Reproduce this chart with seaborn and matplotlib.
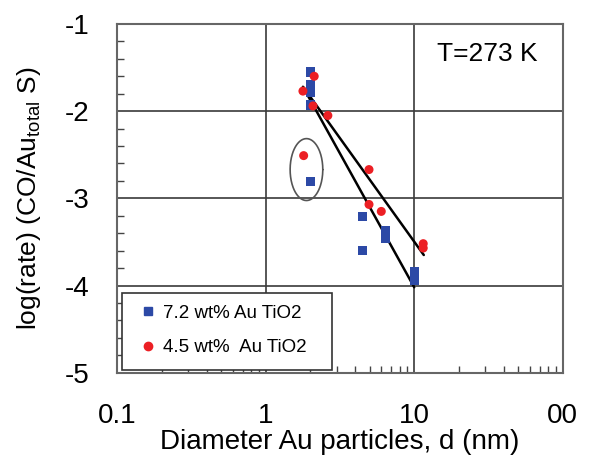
import numpy as np
import pandas as pd
import seaborn as sns
import matplotlib.pyplot as plt
from matplotlib.patches import Rectangle
from matplotlib.ticker import LogLocator, MultipleLocator, FixedLocator, NullFormatter

# data
blue_d = [2.0, 2.0, 2.0, 2.0, 2.0, 4.5, 4.5, 6.4, 6.4, 10.0, 10.0]
blue_rate = [-1.55, -1.70, -1.78, -1.93, -2.81, -3.21, -3.60, -3.37, -3.46, -3.84, -3.94]
red_d = [2.12, 1.78, 2.08, 2.62, 1.80, 4.96, 4.96, 6.0, 11.5, 11.5]
red_rate = [-1.60, -1.77, -1.94, -2.05, -2.51, -2.67, -3.07, -3.15, -3.52, -3.57]

# fitted lines (end points)
fit1_d = [1.78, 10.0]
fit1_rate = [-1.72, -4.02]
fit2_d = [1.80, 11.6]
fit2_rate = [-1.73, -3.65]

# outlier ellipse: centre, half widths (decades, log units)
ell_center = (1.88, -2.67)
ell_half = (0.11, 0.355)

labels = ["7.2 wt% Au TiO2", "4.5 wt%  Au TiO2"]
x_ticks = [0.1, 1, 10, 100]
x_ticklabels = ["0.1", "1", "10", "00"]
y_ticks = [-1, -2, -3, -4, -5]

sns.set_theme(style="white")
plt.rcParams["font.family"] = ["Liberation Sans", "DejaVu Sans"]
plt.rcParams["mathtext.default"] = "regular"
plt.rcParams["text.color"] = "black"
plt.rcParams["axes.labelcolor"] = "black"

blue = "#2c49a6"
red = "#ec1f24"

fig = plt.figure(figsize=(5.9, 4.55), dpi=100)
ax = fig.add_axes([0.1988, 0.1809, 0.7549, 0.7664])

df_b = pd.DataFrame({"d": blue_d, "rate": blue_rate})
df_r = pd.DataFrame({"d": red_d, "rate": red_rate})

# fit lines
for xd, yd in [(fit1_d, fit1_rate), (fit2_d, fit2_rate)]:
    sns.lineplot(x=xd, y=yd, ax=ax, color="black", lw=1.8, zorder=3)

sns.scatterplot(data=df_b, x="d", y="rate", ax=ax, marker="s", s=45,
                color=blue, edgecolor="none", zorder=4)
sns.scatterplot(data=df_r, x="d", y="rate", ax=ax, marker="o", s=42,
                color=red, edgecolor="none", zorder=5)

# ellipse around the outliers
t = np.linspace(0, 2 * np.pi, 200)
ex = 10 ** (np.log10(ell_center[0]) + ell_half[0] * np.cos(t))
ey = ell_center[1] + ell_half[1] * np.sin(t)
ax.plot(ex, ey, color="#555555", lw=1.2, zorder=3)

ax.set_xscale("log")
ax.set_xlim(0.1, 100)
ax.set_ylim(-5, -1)

ax.xaxis.set_major_locator(FixedLocator(x_ticks))
ax.set_xticklabels(x_ticklabels)
ax.xaxis.set_minor_locator(LogLocator(base=10, subs=np.arange(2, 10)))
ax.xaxis.set_minor_formatter(NullFormatter())
ax.yaxis.set_major_locator(FixedLocator(y_ticks))
ax.set_yticklabels([str(v) for v in y_ticks])
ax.yaxis.set_minor_locator(MultipleLocator(0.2))

ax.tick_params(which="both", direction="in", bottom=True, left=True,
               top=False, right=False, colors="#444444", labelcolor="black")
ax.tick_params(which="major", length=0, labelsize=20)
ax.tick_params(axis="x", which="major", pad=22)
ax.tick_params(axis="y", which="major", pad=20)
ax.tick_params(which="minor", length=5, width=1)

ax.grid(True, which="major", color="#3a3a3a", lw=1.2)
for s in ax.spines.values():
    s.set_color("#666666")
    s.set_linewidth(1.5)

ax.set_xlabel("Diameter Au particles, d (nm)", fontsize=20, labelpad=0)
ax.set_ylabel(r"log(rate) (CO/Au$_{total}$ S)", fontsize=19, labelpad=16)

ax.text(0.83, 0.914, "T=273 K", transform=ax.transAxes, ha="center",
        va="center", fontsize=19)

# legend with a plain box
ax.add_patch(Rectangle((0.0105, 0.008), 0.471, 0.221, transform=ax.transAxes,
                       facecolor="white", edgecolor="#333333", lw=1.2, zorder=6))
h1 = plt.Line2D([], [], marker="s", ls="", color=blue, markersize=6)
h2 = plt.Line2D([], [], marker="o", ls="", color=red, markersize=6)
leg = ax.legend([h1, h2], labels, loc="lower left", bbox_to_anchor=(0.03, 0.025),
                frameon=False, fontsize=13.5, labelspacing=0.95, handletextpad=0.3,
                handlelength=1.0, borderaxespad=0)
leg.set_zorder(7)

fig.savefig("out.png", dpi=100)
